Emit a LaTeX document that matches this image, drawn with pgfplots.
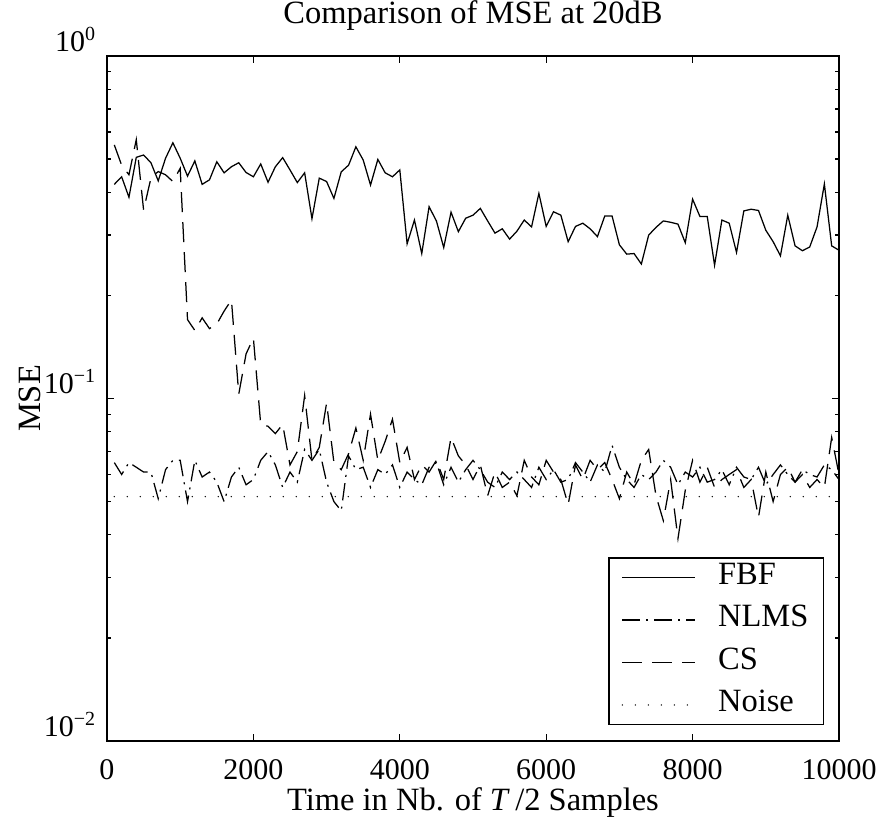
\documentclass[border=0pt]{standalone}
\usepackage{fontspec}
\setmainfont{Liberation Serif}
\usepackage{pgfplots}
\pgfplotsset{compat=1.18}

\begin{document}
\begin{tikzpicture}
\begin{axis}[
  scale only axis, width=292.8pt, height=274pt,
  ymode=log, xmin=0, xmax=10000, ymin=0.01, ymax=1,
  xtick={0,2000,4000,6000,8000,10000}, scaled x ticks=false,
  ytick={0.01,0.1,1},
  yticklabels={10\textsuperscript{−2},10\textsuperscript{−1},10\textsuperscript{0}},
  tick align=inside, major tick length=3pt, minor tick length=1.8pt,
  axis line style={line width=0.6pt},
  every tick/.style={black,line width=0.5pt},
  /pgf/number format/1000 sep={}, /pgf/number format/assume math mode=true,
  tick label style={font=\fontsize{12}{14}\selectfont},
  xticklabel style={anchor=base,inner sep=0pt,yshift=-15.2pt},
  yticklabel style={anchor=base east,inner sep=0pt,xshift=-4pt,yshift=2pt},
  every axis title shift=0pt,
  title={Comparison of MSE at 20dB},
  title style={font=\fontsize{13}{15}\selectfont,at={(axis description cs:0.5,1.047)},anchor=base,inner sep=0pt},
  xlabel={Time in Nb. of \textit{T}\,/2 Samples},
  xlabel style={font=\fontsize{13}{15}\selectfont,at={(axis description cs:0.5,-0.102)},anchor=base,inner sep=0pt},
  ylabel={MSE},
  ylabel style={font=\fontsize{13}{15}\selectfont,at={(axis description cs:-0.105,0.5)},anchor=center,rotate=0},
  legend cell align=left,
  legend image code/.code={\draw[#1] (0pt,0pt) -- (29pt,0pt);},
  legend style={at={(axis description cs:0.9795,0.0234)},anchor=south east,
    draw=black,line width=0.5pt,fill=white,font=\fontsize{13}{15}\selectfont,
    row sep=7.5pt,inner xsep=5pt,inner ysep=3pt,
    nodes={text height=6.5pt,text depth=1pt,inner sep=1pt},
    /tikz/every odd column/.append style={column sep=8pt}},
]
\addplot[black,line width=0.5pt] coordinates {
(100,0.422)(200,0.444)(300,0.387)(400,0.506)(500,0.514)(600,0.488)(700,0.432)(800,0.503)(900,0.558)(1000,0.503)
(1100,0.446)(1200,0.494)(1300,0.422)(1400,0.435)(1500,0.491)(1600,0.456)(1700,0.475)(1800,0.488)(1900,0.457)(2000,0.444)
(2100,0.484)(2200,0.428)(2300,0.475)(2400,0.505)(2500,0.465)(2600,0.427)(2700,0.456)(2800,0.335)(2900,0.440)(3000,0.430)
(3100,0.384)(3200,0.459)(3300,0.480)(3400,0.543)(3500,0.497)(3600,0.420)(3700,0.499)(3800,0.456)(3900,0.444)(4000,0.465)
(4100,0.283)(4200,0.332)(4300,0.265)(4400,0.363)(4500,0.330)(4600,0.276)(4700,0.350)(4800,0.307)(4900,0.336)(5000,0.343)
(5100,0.359)(5200,0.330)(5300,0.304)(5400,0.313)(5500,0.292)(5600,0.308)(5700,0.332)(5800,0.317)(5900,0.397)(6000,0.318)
(6100,0.351)(6200,0.343)(6300,0.287)(6400,0.318)(6500,0.325)(6600,0.313)(6700,0.297)(6800,0.341)(6900,0.341)(7000,0.281)
(7100,0.264)(7200,0.265)(7300,0.247)(7400,0.300)(7500,0.316)(7600,0.330)(7700,0.327)(7800,0.323)(7900,0.285)(8000,0.382)
(8100,0.340)(8200,0.340)(8300,0.245)(8400,0.332)(8500,0.325)(8600,0.267)(8700,0.353)(8800,0.357)(8900,0.354)(9000,0.310)
(9100,0.287)(9200,0.261)(9300,0.343)(9400,0.279)(9500,0.270)(9600,0.277)(9700,0.317)(9800,0.423)(9900,0.279)(10000,0.271)};
\addlegendentry{FBF}
\addplot[black,line width=0.5pt,dash pattern=on 7pt off 2.5pt on 0.8pt off 2.5pt] coordinates {
(100,0.065)(200,0.060)(300,0.065)(400,0.063)(500,0.061)(600,0.061)(700,0.051)(800,0.062)(900,0.066)(1000,0.066)
(1100,0.050)(1200,0.066)(1300,0.059)(1400,0.061)(1500,0.057)(1600,0.050)(1700,0.059)(1800,0.063)(1900,0.056)(2000,0.058)
(2100,0.066)(2200,0.070)(2300,0.064)(2400,0.055)(2500,0.061)(2600,0.057)(2700,0.071)(2800,0.066)(2900,0.071)(3000,0.057)
(3100,0.050)(3200,0.047)(3300,0.068)(3400,0.062)(3500,0.063)(3600,0.055)(3700,0.062)(3800,0.060)(3900,0.064)(4000,0.055)
(4100,0.061)(4200,0.058)(4300,0.056)(4400,0.063)(4500,0.065)(4600,0.056)(4700,0.063)(4800,0.057)(4900,0.062)(5000,0.066)
(5100,0.062)(5200,0.057)(5300,0.055)(5400,0.061)(5500,0.058)(5600,0.061)(5700,0.058)(5800,0.055)(5900,0.063)(6000,0.058)
(6100,0.062)(6200,0.057)(6300,0.058)(6400,0.065)(6500,0.061)(6600,0.057)(6700,0.064)(6800,0.061)(6900,0.073)(7000,0.063)
(7100,0.058)(7200,0.055)(7300,0.060)(7400,0.058)(7500,0.061)(7600,0.066)(7700,0.063)(7800,0.056)(7900,0.061)(8000,0.059)
(8100,0.063)(8200,0.057)(8300,0.058)(8400,0.062)(8500,0.056)(8600,0.063)(8700,0.059)(8800,0.058)(8900,0.063)(9000,0.056)
(9100,0.060)(9200,0.064)(9300,0.060)(9400,0.057)(9500,0.062)(9600,0.060)(9700,0.059)(9800,0.064)(9900,0.062)(10000,0.058)};
\addlegendentry{NLMS}
\addplot[black,line width=0.5pt,dash pattern=on 8pt off 4pt] coordinates {
(100,0.550)(200,0.480)(300,0.450)(400,0.570)(500,0.355)(600,0.440)(700,0.460)(800,0.450)(900,0.430)(1000,0.470)
(1100,0.170)(1200,0.158)(1300,0.172)(1400,0.160)(1500,0.165)(1600,0.180)(1700,0.194)(1800,0.103)(1900,0.135)(2000,0.150)
(2100,0.084)(2200,0.083)(2300,0.079)(2400,0.084)(2500,0.064)(2600,0.070)(2700,0.102)(2800,0.066)(2900,0.072)(3000,0.097)
(3100,0.065)(3200,0.062)(3300,0.069)(3400,0.082)(3500,0.066)(3600,0.090)(3700,0.066)(3800,0.075)(3900,0.087)(4000,0.065)
(4100,0.072)(4200,0.058)(4300,0.064)(4400,0.061)(4500,0.066)(4600,0.058)(4700,0.077)(4800,0.068)(4900,0.064)(5000,0.058)
(5100,0.064)(5200,0.052)(5300,0.061)(5400,0.055)(5500,0.057)(5600,0.052)(5700,0.066)(5800,0.059)(5900,0.056)(6000,0.066)
(6100,0.061)(6200,0.058)(6300,0.049)(6400,0.064)(6500,0.058)(6600,0.066)(6700,0.062)(6800,0.065)(6900,0.058)(7000,0.051)
(7100,0.061)(7200,0.056)(7300,0.066)(7400,0.071)(7500,0.052)(7600,0.044)(7700,0.058)(7800,0.039)(7900,0.054)(8000,0.066)
(8100,0.057)(8200,0.063)(8300,0.055)(8400,0.058)(8500,0.060)(8600,0.062)(8700,0.055)(8800,0.058)(8900,0.045)(9000,0.061)
(9100,0.050)(9200,0.060)(9300,0.063)(9400,0.057)(9500,0.060)(9600,0.055)(9700,0.058)(9800,0.055)(9900,0.077)(10000,0.060)};
\addlegendentry{CS}
\addplot[black,line width=0.6pt,line cap=round,dash pattern=on 0pt off 5.2pt] coordinates {
(100,0.0517)(10000,0.0517)};
\addlegendentry{Noise}
\end{axis}
\pgfresetboundingbox
\path[use as bounding box] ([xshift=-42.8pt,yshift=-30.8pt]current axis.south west) rectangle ([xshift=17.2pt,yshift=22.4pt]current axis.north east);
\end{tikzpicture}
\end{document}
